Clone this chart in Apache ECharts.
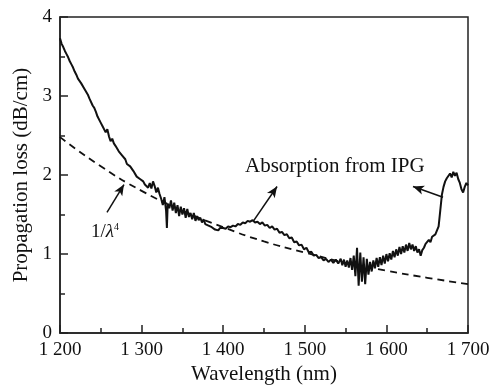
<!DOCTYPE html>
<html>
<head>
<meta charset="utf-8">
<script src="https://cdn.jsdelivr.net/npm/echarts@6/dist/echarts.min.js"></script>
<style>html,body{margin:0;padding:0;background:#fff}#c{width:498px;height:390px}</style>
</head>
<body>
<div id="c"></div>
<script>
// Measured propagation loss (solid)
const wavelength = [1200,1202,1204,1206,1208,1210,1212,1214,1216,1218,1220,1222,1224,1226,1228,1230,1232,1234,1236,1238,1240,1242,1244,1246,1248,1250,1252,1254,1256,1258,1260,1262,1264,1266,1268,1270,1272,1274,1276,1278,1280,1282,1284,1286,1288,1290,1292,1294,1296,1298,1300,1302,1304,1306,1308,1310,1312,1314,1316,1318,1320,1322,1324,1326,1328,1330,1331,1332,1334,1336,1338,1340,1342,1344,1346,1348,1350,1352,1354,1356,1358,1360,1362,1364,1366,1368,1370,1372,1374,1376,1378,1380,1382,1384,1386,1388,1390,1392,1394,1396,1398,1400,1403,1406,1409,1412,1415,1418,1421,1424,1427,1430,1433,1436,1439,1442,1445,1448,1451,1454,1457,1460,1463,1466,1469,1472,1475,1478,1481,1484,1487,1490,1493,1496,1499,1502,1505,1508,1511,1514,1517,1520,1523,1526,1529,1532,1535,1538,1541,1544,1546,1548,1550,1552,1554,1556,1558,1560,1562,1564,1566,1568,1570,1572,1574,1576,1578,1580,1582,1584,1586,1588,1590,1592,1594,1596,1598,1600,1602,1604,1606,1608,1610,1612,1614,1616,1618,1620,1622,1624,1626,1628,1630,1632,1634,1636,1638,1640,1642,1644,1646,1648,1650,1652,1654,1656,1658,1660,1662,1664,1666,1668,1670,1672,1674,1676,1678,1680,1682,1684,1686,1688,1690,1692,1694,1696,1698,1700];
const loss = [3.73,3.66,3.62,3.57,3.53,3.49,3.44,3.40,3.36,3.31,3.27,3.22,3.20,3.16,3.14,3.09,3.07,3.02,2.97,2.95,2.88,2.85,2.80,2.74,2.72,2.66,2.62,2.60,2.54,2.58,2.49,2.43,2.46,2.40,2.37,2.36,2.30,2.31,2.25,2.24,2.20,2.14,2.16,2.11,2.09,2.05,2.03,1.98,1.99,1.95,1.93,1.92,1.88,1.88,1.84,1.90,1.83,1.92,1.86,1.78,1.84,1.76,1.70,1.62,1.72,1.55,1.33,1.64,1.58,1.68,1.55,1.65,1.52,1.62,1.48,1.60,1.50,1.58,1.46,1.57,1.47,1.52,1.44,1.52,1.42,1.48,1.43,1.46,1.40,1.44,1.38,1.40,1.36,1.37,1.34,1.36,1.31,1.33,1.30,1.33,1.31,1.33,1.32,1.35,1.34,1.36,1.35,1.38,1.37,1.40,1.39,1.42,1.41,1.43,1.40,1.41,1.38,1.40,1.36,1.37,1.33,1.35,1.31,1.32,1.27,1.28,1.24,1.25,1.20,1.21,1.15,1.16,1.11,1.12,1.06,1.08,1.02,1.03,0.98,0.99,0.95,0.96,0.92,0.94,0.90,0.93,0.89,0.93,0.88,0.94,0.86,0.93,0.84,0.92,0.83,0.95,0.80,0.98,0.72,1.08,0.60,1.02,0.65,0.96,0.62,0.94,0.74,0.90,0.78,0.92,0.82,0.95,0.84,0.96,0.86,0.98,0.88,1.00,0.91,1.01,0.93,1.04,0.96,1.06,0.98,1.09,1.00,1.10,1.02,1.12,1.04,1.14,1.06,1.12,1.04,1.10,1.02,1.06,0.98,1.05,1.08,1.13,1.12,1.18,1.15,1.22,1.21,1.25,1.24,1.35,1.55,1.75,1.85,1.92,1.96,1.98,2.02,1.97,2.04,1.99,2.03,1.95,1.90,1.82,1.78,1.85,1.90,1.87];
// 1/lambda^4 reference curve (dashed)
const fitWavelength = [1200,1250,1300,1350,1400,1450,1500,1550,1600,1650,1700];
const fitLoss = [2.48,2.11,1.80,1.55,1.34,1.16,1.02,0.89,0.79,0.70,0.62];
const xTicks = [1200,1300,1400,1500,1600,1700];
const xTickLabels = ['1 200','1 300','1 400','1 500','1 600','1 700'];
const yTickLabels = ['0','1','2','3','4'];

const FONT = 'Liberation Serif';
const chart = echarts.init(document.getElementById('c'));
const pairs = (xs, ys) => xs.map((x, i) => [x, ys[i]]);
const arrowLine = (a, b) => [{coord: a, symbol: 'none'}, {coord: b, symbol: 'arrow', symbolSize: [7, 11]}];

chart.setOption({
  animation: false,
  grid: {left: 60, top: 17, right: 30, bottom: 56, show: true, borderColor: '#222', borderWidth: 1.5},
  xAxis: {
    type: 'value', min: 1200, max: 1700, interval: 100,
    name: 'Wavelength (nm)', nameLocation: 'middle', nameGap: 28,
    nameTextStyle: {fontFamily: FONT, fontSize: 21, color: '#111'},
    axisLine: {show: true, lineStyle: {color: '#222', width: 1.5}},
    axisTick: {show: true, inside: true, length: 8, lineStyle: {color: '#222', width: 1.5}},
    minorTick: {show: true, splitNumber: 2, length: 5, lineStyle: {color: '#222', width: 1.5}},
    splitLine: {show: false},
    axisLabel: {fontFamily: FONT, fontSize: 19, color: '#111', margin: 7,
      formatter: v => xTickLabels[xTicks.indexOf(v)] ?? ''}
  },
  yAxis: {
    type: 'value', min: 0, max: 4, interval: 1,
    name: 'Propagation loss (dB/cm)', nameLocation: 'middle', nameGap: 27,
    nameTextStyle: {fontFamily: FONT, fontSize: 21, color: '#111'},
    axisLine: {show: true, lineStyle: {color: '#222', width: 1.5}},
    axisTick: {show: true, inside: true, length: 8, lineStyle: {color: '#222', width: 1.5}},
    minorTick: {show: true, splitNumber: 2, length: 5, lineStyle: {color: '#222', width: 1.5}},
    splitLine: {show: false},
    axisLabel: {fontFamily: FONT, fontSize: 19, color: '#111', margin: 8,
      formatter: v => yTickLabels[v] ?? ''}
  },
  series: [
    {
      type: 'line', data: pairs(wavelength, loss), showSymbol: false, symbol: 'none',
      lineStyle: {color: '#111', width: 2}, z: 3,
      markLine: {
        silent: true, animation: false,
        lineStyle: {color: '#111', width: 1.5, type: 'solid'},
        label: {show: false},
        data: [
          arrowLine([1436.5, 1.41], [1466, 1.855]),
          arrowLine([1669.4, 1.72], [1632.6, 1.855]),
          arrowLine([1257.6, 1.527], [1278.4, 1.88])
        ]
      }
    },
    {
      type: 'line', data: pairs(fitWavelength, fitLoss), smooth: true, showSymbol: false, symbol: 'none',
      lineStyle: {color: '#111', width: 1.8, type: [7, 5]}, z: 2
    }
  ],
  graphic: [
    {type: 'text', left: 245, top: 156, style: {text: 'Absorption from IPG', font: '21px "Liberation Serif"', fill: '#111'}},
    {type: 'text', left: 91, top: 222, style: {
      text: '1/{i|λ}{s|4}', font: '19px "Liberation Serif"', fill: '#111',
      rich: {i: {fontFamily: FONT, fontStyle: 'italic', fontSize: 19, fill: '#111'},
             s: {fontFamily: FONT, fontSize: 10, verticalAlign: 'top', padding: [0,0,10,0], fill: '#111'}}
    }}
  ]
});
</script>
</body>
</html>
